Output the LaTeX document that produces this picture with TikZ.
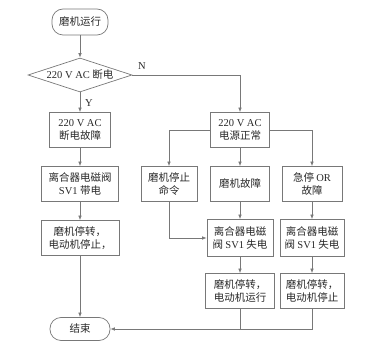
\documentclass[tikz,border=0pt]{standalone}
\usepackage{fontspec}
\setmainfont{Liberation Serif}
\newfontfamily\cjk{Noto Sans CJK SC}
\usetikzlibrary{arrows.meta,shapes.geometric}
\definecolor{linec}{RGB}{120,120,120}
\definecolor{txtc}{RGB}{40,40,40}
\newcommand{\lat}[1]{{\rmfamily #1}}
\begin{document}
\begin{tikzpicture}[x=1pt,y=-1pt,
  every node/.style={font=\cjk\fontsize{10.5}{13}\selectfont, text=txtc},
  box/.style={draw=linec, line width=0.7pt, rectangle, align=center, inner sep=1pt, minimum height=35pt},
  term/.style={draw=linec, line width=0.7pt, rectangle, rounded corners=11pt, inner sep=1pt},
  arr/.style={draw=linec, line width=0.7pt, -{Latex[length=4.5pt,width=3.5pt]}},
  ln/.style={draw=linec, line width=0.7pt}]
\useasboundingbox (0,0) rectangle (375,363);
\node[term, minimum width=56pt, minimum height=26pt] (start) at (80,22) {磨机运行};
\node[diamond, draw=linec, line width=0.7pt, minimum width=104pt, minimum height=34pt, inner sep=0pt] (dec) at (80,75) {};
\node at (dec) {\lat{220 V AC} 断电};
\node[box, minimum width=61pt] (b1) at (80,130) {\lat{220 V AC}\\断电故障};
\node[box, minimum width=77pt] (b2) at (80,184) {离合器电磁阀\\\lat{SV1} 带电};
\node[box, minimum width=78pt] (b3) at (80,238) {磨机停转，\\电动机停止，};
\node[term, minimum width=60pt, minimum height=23pt] (end) at (80,329) {结束};
\node[box, minimum width=59pt] (r1) at (240,130) {\lat{220 V AC}\\电源正常};
\node[box, minimum width=56pt] (c1) at (169,184) {磨机停止\\命令};
\node[box, minimum width=59pt] (c2) at (240,184) {磨机故障};
\node[box, minimum width=60pt] (c3) at (312,184) {急停 \lat{OR}\\故障};
\node[box, minimum width=66pt, minimum height=37pt] (m1) at (240,238) {离合器电磁\\阀 \lat{SV1} 失电};
\node[box, minimum width=64pt, minimum height=37pt] (m2) at (312,238) {离合器电磁\\阀 \lat{SV1} 失电};
\node[box, minimum width=69pt] (n1) at (240,291) {磨机停转，\\电动机运行};
\node[box, minimum width=64pt] (n2) at (312,291) {磨机停转，\\电动机停止};
\draw[arr] (start) -- (dec);
\draw[arr] (dec) -- (b1);
\node[font=\rmfamily\fontsize{10.5}{13}\selectfont] (y) at (89,103) {Y};
\draw[arr] (dec.east) -| (r1);
\node[font=\rmfamily\fontsize{10.5}{13}\selectfont] (n) at (142,66) {N};
\draw[arr] (b1) -- (b2);
\draw[arr] (b2) -- (b3);
\draw[arr] (b3) -- (end);
\draw[arr] (r1.west) -| (c1);
\draw[arr] (r1) -- (c2);
\draw[arr] (r1.east) -| (c3);
\draw[arr] (c1) |- (m1);
\draw[arr] (c2) -- (m1);
\draw[arr] (c3) -- (m2);
\draw[arr] (m1) -- (n1);
\draw[arr] (m2) -- (n2);
\draw[ln] (n1.south) -- (n1.south |- end.east);
\draw[arr] (n2.south) |- (end.east);
\end{tikzpicture}
\end{document}
